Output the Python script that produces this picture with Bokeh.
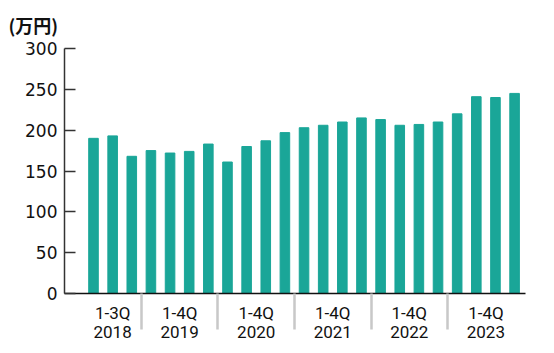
from bokeh.plotting import figure
from bokeh.models import Range1d, FixedTicker
from bokeh.embed import file_html
from bokeh.resources import INLINE

values = [190, 193, 168,
          175, 172, 174, 183,
          161, 180, 187, 197,
          203, 206, 210, 215,
          213, 206, 207, 210,
          220, 241, 240, 245]
group_labels = ["1-3Q\n2018", "1-4Q\n2019", "1-4Q\n2020", "1-4Q\n2021", "1-4Q\n2022", "1-4Q\n2023"]
group_sizes = [3, 4, 4, 4, 4, 4]
y_ticks = [0, 50, 100, 150, 200, 250, 300]
unit_label = "(万円)"

x = list(range(len(values)))

centers = []
separators = []
start = 0
for i, n in enumerate(group_sizes):
    centers.append(start + (n - 1) / 2)
    if i > 0:
        separators.append(start - 0.5)
    start += n

p = figure(width=554, height=353, output_backend="svg", toolbar_location=None,
           x_range=Range1d(-1.515, 22.57), y_range=Range1d(0, 300),
           min_border_left=64, min_border_right=29, min_border_top=48, min_border_bottom=60)

p.vbar(x=x, top=values, width=0.5, color="#1aa698")

p.grid.visible = False
p.outline_line_color = None
p.background_fill_color = "white"

# y axis
p.yaxis.ticker = FixedTicker(ticks=y_ticks)
p.yaxis.major_tick_in = 11
p.yaxis.major_tick_out = 0
p.yaxis.minor_tick_line_color = None
p.yaxis.axis_line_color = "#333333"
p.yaxis.axis_line_width = 1.5
p.yaxis.major_tick_line_color = "#333333"
p.yaxis.major_tick_line_width = 1.5
p.yaxis.major_label_text_font = "DejaVu Sans"
p.yaxis.major_label_text_font_size = "17px"
p.yaxis.major_label_text_color = "#111111"
p.yaxis.major_label_standoff = 7

# x axis
p.xaxis.ticker = FixedTicker(ticks=centers, minor_ticks=separators)
p.xaxis.major_label_overrides = {c: lab for c, lab in zip(centers, group_labels)}
p.xaxis.major_tick_line_color = None
p.xaxis.major_tick_in = 0
p.xaxis.major_tick_out = 0
p.xaxis.minor_tick_line_color = "#c8c8c8"
p.xaxis.minor_tick_line_width = 2.5
p.xaxis.minor_tick_in = 0
p.xaxis.minor_tick_out = 36
p.xaxis.axis_line_color = "#111111"
p.xaxis.axis_line_width = 1.5
p.xaxis.major_label_text_font = "Roboto"
p.xaxis.major_label_text_font_size = "17px"
p.xaxis.major_label_text_color = "#111111"
p.xaxis.major_label_text_line_height = 0.95
p.xaxis.major_label_standoff = -27

# unit label as title
p.title.text = unit_label
p.title.text_font = "Noto Sans CJK JP"
p.title.text_font_style = "bold"
p.title.text_font_size = "18px"
p.title.text_color = "#111111"
p.title.align = "left"
p.title.vertical_align = "top"
p.title.offset = -56
p.title.standoff = 18

open("out.html", "w").write(file_html(p, INLINE))
